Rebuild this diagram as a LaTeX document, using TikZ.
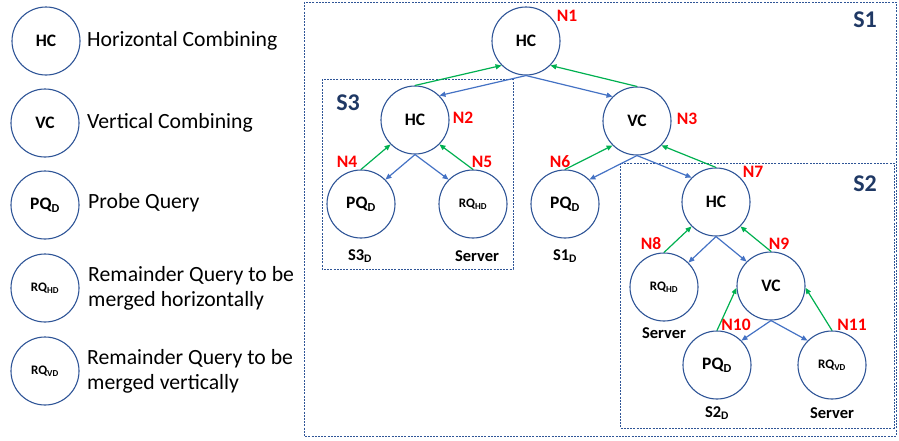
\documentclass[tikz,border=0pt]{standalone}
\usepackage{fontspec}
\setmainfont{Carlito}
\usetikzlibrary{arrows.meta}
\definecolor{circblue}{HTML}{2F5597}
\definecolor{arrblue}{HTML}{4472C4}
\definecolor{arrgreen}{HTML}{00B050}
\definecolor{navy}{HTML}{1F3864}
\definecolor{lblred}{HTML}{FF0000}
\tikzset{
  qnode/.style={circle, draw=circblue, line width=1.1pt, minimum size=68pt, inner sep=0pt, font=\fontsize{17.5}{20}\selectfont\bfseries},
  rqnode/.style={qnode, font=\fontsize{13}{16}\selectfont\bfseries},
  barrow/.style={draw=arrblue, line width=1.2pt, -{Triangle[length=6pt,width=5pt]}},
  garrow/.style={draw=arrgreen, line width=1.2pt, -{Triangle[length=6pt,width=5pt]}},
  nlabel/.style={text=lblred, font=\fontsize{17.5}{20}\selectfont\bfseries, inner sep=0pt},
  slabel/.style={text=navy, font=\fontsize{24}{28}\selectfont\bfseries, inner sep=0pt},
  dlabel/.style={font=\fontsize{16.5}{19}\selectfont\bfseries, inner sep=0pt},
  legtext/.style={font=\fontsize{21.7}{25}\selectfont, anchor=west, inner sep=0pt, align=left},
  sbox/.style={draw=circblue, line width=0.9pt, dash pattern=on 2pt off 1.2pt}
}
\begin{document}
\begin{tikzpicture}[x=1pt, y=-1pt]
\useasboundingbox (0,0) rectangle (899,440);
% legend
\node[qnode] (l1) at (46,41) {HC};
\node[qnode] (l2) at (45,123) {VC};
\node[qnode] (l3) at (45,205) {PQ\textsubscript{D}};
\node[rqnode] (l4) at (45,288) {RQ\textsubscript{HD}};
\node[rqnode] (l5) at (45,371) {RQ\textsubscript{VD}};
\node[legtext] (t1) at (87,41) {Horizontal Combining};
\node[legtext] (t2) at (87,123) {Vertical Combining};
\node[legtext] (t3) at (88,203) {Probe Query};
\node[legtext] (t4) at (88,288) {Remainder Query to be\\merged horizontally};
\node[legtext] (t5) at (87,371) {Remainder Query to be\\merged vertically};
% boxes
\draw[sbox] (304,2) rectangle (896,436);
\draw[sbox] (322,79) rectangle (513,269);
\draw[sbox] (620,163) rectangle (894,428);
\node[slabel] (s1) at (865,20) {S1};
\node[slabel] (s3) at (348,103) {S3};
\node[slabel] (s2) at (865,184) {S2};
% tree nodes
\node[qnode] (n1) at (526,41) {HC};
\node[qnode] (n2) at (415,120) {HC};
\node[qnode] (n3) at (637,121) {VC};
\node[qnode] (n4) at (361,204) {PQ\textsubscript{D}};
\node[rqnode] (n5) at (473,204) {RQ\textsubscript{HD}};
\node[qnode] (n6) at (565,204) {PQ\textsubscript{D}};
\node[qnode] (n7) at (716,202) {HC};
\node[rqnode] (n8) at (664,287) {RQ\textsubscript{HD}};
\node[qnode] (n9) at (771,286) {VC};
\node[qnode] (n10) at (717,365) {PQ\textsubscript{D}};
\node[rqnode] (n11) at (832,365) {RQ\textsubscript{VD}};
% red labels
\node[nlabel] (k1) at (567,16) {N1};
\node[nlabel] (k2) at (463,118) {N2};
\node[nlabel] (k3) at (687,119) {N3};
\node[nlabel] (k4) at (347,162) {N4};
\node[nlabel] (k5) at (482,162) {N5};
\node[nlabel] (k6) at (560,162) {N6};
\node[nlabel] (k7) at (753,172) {N7};
\node[nlabel] (k8) at (651,244) {N8};
\node[nlabel] (k9) at (779,244) {N9};
\node[nlabel] (k10) at (736,325) {N10};
\node[nlabel] (k11) at (852,325) {N11};
% bottom labels
\node[dlabel] (d4) at (360,256) {S3\textsubscript{D}};
\node[dlabel] (d5) at (477,256) {Server};
\node[dlabel] (d6) at (565,256) {S1\textsubscript{D}};
\node[dlabel] (d8) at (664,333) {Server};
\node[dlabel] (d10) at (717,413) {S2\textsubscript{D}};
\node[dlabel] (d11) at (832,413) {Server};
% arrows
\draw[barrow] (n1.south) -- (n2.45);
\draw[garrow] (n2.north) -- (n1.225);
\draw[barrow] (n1.south) -- (n3.135);
\draw[garrow] (n3.north) -- (n1.315);
\draw[barrow] (n2.south) -- (n4.45);
\draw[garrow] (n4.north) -- (n2.225);
\draw[barrow] (n2.south) -- (n5.135);
\draw[garrow] (n5.north) -- (n2.315);
\draw[barrow] (n3.south) -- (n6.45);
\draw[garrow] (n6.north) -- (n3.225);
\draw[barrow] (n3.south) -- (n7.135);
\draw[garrow] (n7.north) -- (n3.315);
\draw[barrow] (n7.south) -- (n8.45);
\draw[garrow] (n8.north) -- (n7.225);
\draw[barrow] (n7.south) -- (n9.135);
\draw[garrow] (n9.north) -- (n7.315);
\draw[barrow] (n9.south) -- (n10.45);
\draw[garrow] (n10.north) -- (n9.183);
\draw[barrow] (n9.south) -- (n11.135);
\draw[garrow] (n11.north) -- (n9.-3);
\end{tikzpicture}
\end{document}
